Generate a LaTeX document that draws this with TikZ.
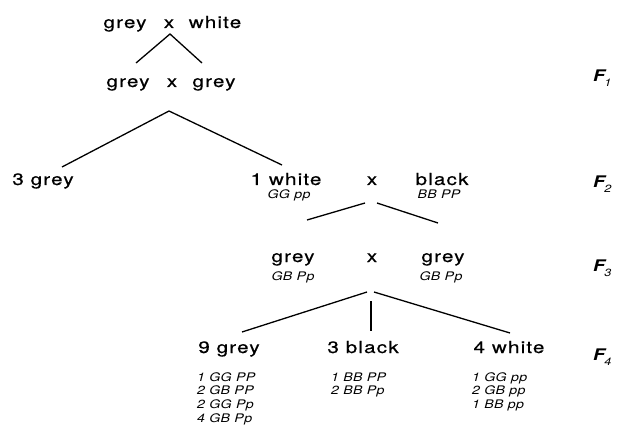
\documentclass[tikz,border=0pt]{standalone}
\usepackage{fontspec}
\setmainfont{TeX Gyre Heros}
\newfontfamily\wordfont[FakeStretch=1.25,LetterSpace=7,FakeBold=0.6]{TeX Gyre Heros}
\newfontfamily\genfont[FakeStretch=1.2,LetterSpace=3]{TeX Gyre Heros}
\newcommand{\gensub}[1]{\kern-0.5pt\raisebox{-5pt}{\mdseries\fontsize{10.5}{10.5}\selectfont #1}}
\begin{document}
\begin{tikzpicture}[x=1pt,y=-1pt,
  word/.style={anchor=base,inner sep=0pt,font=\wordfont\fontsize{16.5}{18}\selectfont},
  gen/.style={anchor=base west,inner sep=0pt,font=\genfont\itshape\fontsize{11.8}{13}\selectfont},
  genc/.style={anchor=base,inner sep=0pt,font=\genfont\itshape\fontsize{11.8}{13}\selectfont},
  flabel/.style={anchor=base west,inner sep=0pt,font=\genfont\bfseries\itshape\fontsize{16}{17}\selectfont},
  link/.style={line width=1.3pt}]
\useasboundingbox[fill=white] (0,0) rectangle (617,438);
% row 0
\node[word] (w0a) at (125,28) {grey};
\node[word] (w0x) at (169,28) {x};
\node[word] (w0b) at (215,28) {white};
% row 1
\node[word] (r1a) at (128,87) {grey};
\node[word] (r1x) at (172,87) {x};
\node[word] (r1b) at (214,87) {grey};
\node[flabel] (F1) at (593,82) {F\gensub{1}};
% row 2
\node[word] (r2g) at (43,185) {3 grey};
\node[word] (r2w) at (286,185) {1 white};
\node[word] (r2x) at (372,185) {x};
\node[word] (r2b) at (442,185) {black};
\node[genc] (g2w) at (289,198) {GG pp};
\node[genc] (g2b) at (439,198) {BB PP};
\node[flabel] (F2) at (593,188) {F\gensub{2}};
% row 3
\node[word] (r3a) at (293,262) {grey};
\node[word] (r3x) at (372,262) {x};
\node[word] (r3b) at (443,262) {grey};
\node[genc] (g3a) at (293,280) {GB Pp};
\node[genc] (g3b) at (441,280) {GB Pp};
\node[flabel] (F3) at (593,271) {F\gensub{3}};
% row 4
\node[word] (r4g) at (229,353) {9 grey};
\node[word] (r4b) at (363,353) {3 black};
\node[word] (r4w) at (509,353) {4 white};
\node[flabel] (F4) at (593,360) {F\gensub{4}};
\node[gen] (ga1) at (197,381) {1 GG PP};
\node[gen] (ga2) at (197,394) {2 GB PP};
\node[gen] (ga3) at (197,408) {2 GG Pp};
\node[gen] (ga4) at (197,422) {4 GB Pp};
\node[gen] (gb1) at (331,381) {1 BB PP};
\node[gen] (gb2) at (331,394) {2 BB Pp};
\node[gen] (gc1) at (472,381) {1 GG pp};
\node[gen] (gc2) at (472,394) {2 GB pp};
\node[gen] (gc3) at (472,408) {1 BB pp};
% connector points
\coordinate (a0) at (170,34);
\coordinate (a0l) at (136,63);
\coordinate (a0r) at (202,63);
\coordinate (a1) at (169,111);
\coordinate (a1l) at (62,167);
\coordinate (a1r) at (282,165);
\coordinate (a2l) at (365,203);
\coordinate (a2r) at (377,203);
\coordinate (e2l) at (307,220);
\coordinate (e2r) at (438,223);
\coordinate (a3l) at (367,292);
\coordinate (a3r) at (374,292);
\coordinate (a3m) at (371,301);
\coordinate (e3l) at (242,332);
\coordinate (e3m) at (371,331);
\coordinate (e3r) at (510,333);
\draw[link] (a0l) -- (a0) -- (a0r);
\draw[link] (a1l) -- (a1) -- (a1r);
\draw[link] (a2l) -- (e2l);
\draw[link] (a2r) -- (e2r);
\draw[link] (a3l) -- (e3l);
\draw[link] (a3m) -- (e3m);
\draw[link] (a3r) -- (e3r);
\end{tikzpicture}
\end{document}
